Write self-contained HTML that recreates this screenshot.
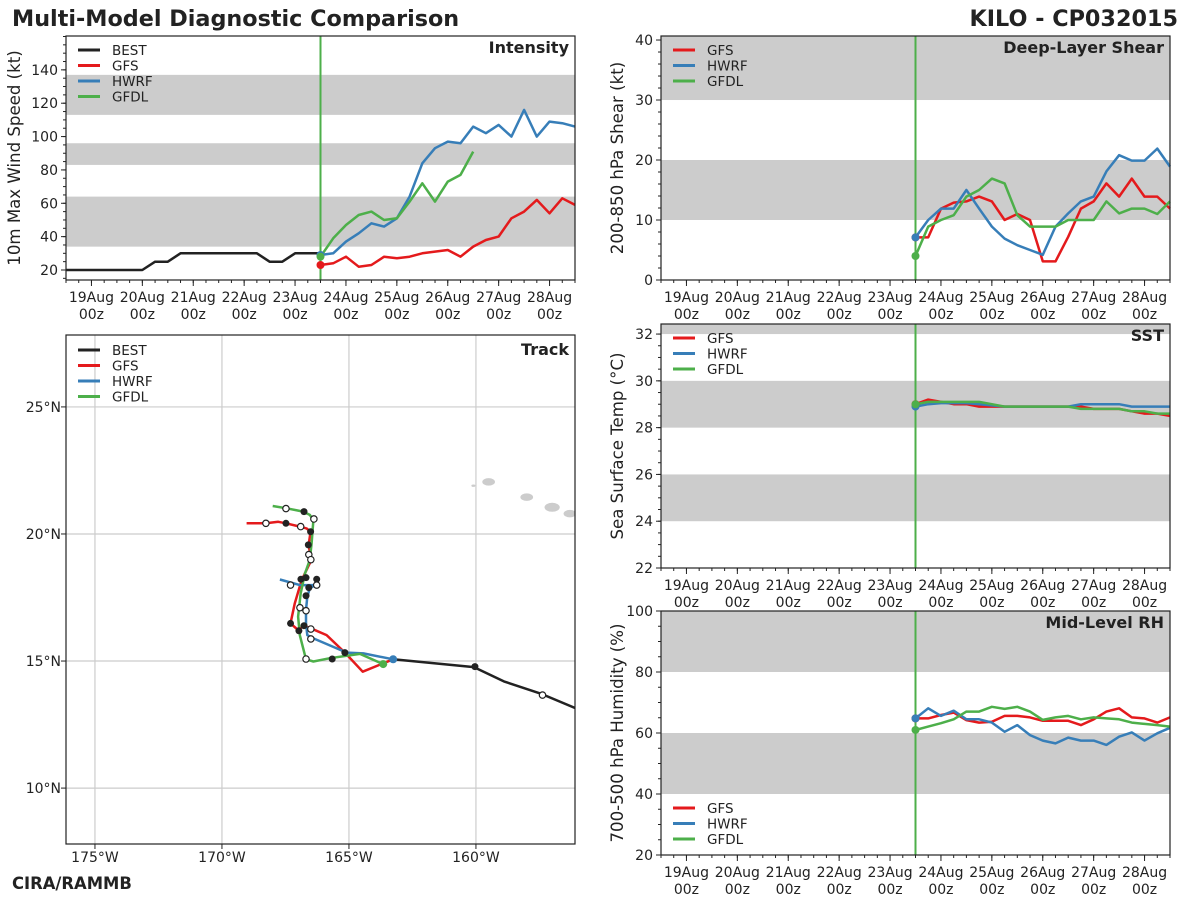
<!DOCTYPE html>
<html><head><meta charset="utf-8">
<style>
body{margin:0;background:#fff;font-family:"Liberation Sans","DejaVu Sans",sans-serif;}
svg text{font-family:"DejaVu Sans","Liberation Sans",sans-serif;}
</style></head>
<body>
<svg id="fig" width="1200" height="900" viewBox="0 0 1200 900" xmlns="http://www.w3.org/2000/svg">
<text x="12" y="26" font-size="22.3" font-weight="bold" fill="#222">Multi-Model Diagnostic Comparison</text>
<text x="1178" y="26" font-size="22.3" font-weight="bold" fill="#222" text-anchor="end">KILO - CP032015</text>
<text x="12" y="889" font-size="16.4" font-weight="bold" fill="#222">CIRA/RAMMB</text>
</svg>
<script>
// ---------- DATA ----------
const dayLabels=["19Aug","20Aug","21Aug","22Aug","23Aug","24Aug","25Aug","26Aug","27Aug","28Aug"];
const bestTimes=[-0.5,-0.25,0,0.25,0.5,0.75,1,1.25,1.5,1.75,2,2.25,2.5,2.75,3,3.25,3.5,3.75,4,4.25,4.5];
const bestVmax=[20,20,20,20,20,20,20,25,25,30,30,30,30,30,30,30,25,25,30,30,30];
const modelStart=4.5, modelStep=0.25;
const gfsVmax=[23,24,28,22,23,28,27,28,30,31,32,28,34,38,40,51,55,62,54,63,59];
const hwrfVmax=[29,30,37,42,48,46,51,64,84,93,97,96,106,102,107,100,116,100,109,108,106];
const gfdlVmax=[28,39,47,53,55,50,51,61,72,61,73,77,91];
const gfsShear=[7.1,7.1,11.9,12.9,13.1,13.9,13.1,10,11,10,3.1,3.1,7.2,11.9,13.1,16.1,13.9,16.9,13.9,13.9,11.9];
const hwrfShear=[7.1,10,11.9,11.9,15,11.9,8.9,6.9,5.8,5,4.2,8.9,11.1,13.1,13.9,18.1,20.8,19.9,19.9,21.9,18.9];
const gfdlShear=[4,8.9,10,10.8,13.9,15,16.9,16.1,10.8,8.9,8.9,8.9,10,10,10,13.1,11.1,11.9,11.9,11,13.1];
const gfsSst=[29,29.2,29.1,29,29,28.9,28.9,28.9,28.9,28.9,28.9,28.9,28.9,28.9,28.8,28.8,28.8,28.7,28.6,28.6,28.5];
const hwrfSst=[28.9,29,29.05,29.05,29.05,29,28.95,28.9,28.9,28.9,28.9,28.9,28.9,29,29,29,29,28.9,28.9,28.9,28.9];
const gfdlSst=[29,29.1,29.1,29.1,29.1,29.1,29,28.9,28.9,28.9,28.9,28.9,28.9,28.8,28.8,28.8,28.8,28.7,28.7,28.6,28.6];
const gfsRh=[64.8,64.8,65.9,66.7,64.2,63.4,63.7,65.6,65.6,65.1,64,64,64,62.6,64.5,67,68.1,65.1,64.8,63.4,65.1];
const hwrfRh=[64.8,68.1,65.6,67.3,64.5,64.5,63.4,60.4,62.6,59.3,57.5,56.6,58.5,57.5,57.5,56.1,58.8,60.2,57.5,59.9,61.7];
const gfdlRh=[61,62.1,63.2,64.5,67,67,68.6,67.9,68.6,67,64.3,65.1,65.6,64.5,65.1,64.8,64.5,63.4,63,62.6,62.1];
const bestTrackLon=[-156.1,-157.4,-158.9,-160.08,-163.26];
const bestTrackLat=[13.15,13.7,14.2,14.76,15.07];
const gfsTrackLon=[-163.26,-164.46,-165.16,-165.88,-166.5,-166.77,-167.0,-167.3,-167.13,-166.86,-166.54,-166.51,-166.59,-166.51,-166.67,-166.93,-167.48,-167.78,-168.27,-169.03];
const gfsTrackLat=[15.07,14.58,15.33,16.02,16.29,16.39,16.22,16.48,17.27,18.19,18.85,19.11,19.57,20.09,20.22,20.29,20.42,20.48,20.42,20.42];
const hwrfTrackLon=[-163.26,-164.43,-165.09,-166.4,-166.64,-166.69,-166.69,-166.64,-166.54,-166.34,-166.93,-167.72];
const hwrfTrackLat=[15.07,15.3,15.33,15.89,16.02,16.48,17.01,17.53,17.86,17.99,17.99,18.21];
const gfdlTrackLon=[-163.65,-164.57,-165.75,-166.4,-166.69,-166.93,-167.0,-166.9,-166.73,-166.54,-166.47,-166.4,-166.54,-166.8,-167.45,-168.0];
const gfdlTrackLat=[14.88,15.28,15.11,14.98,15.07,16.0,16.75,17.67,18.45,18.98,19.63,20.55,20.75,20.88,21.01,21.1];
const filledLon=[-166.77,-167.48,-166.51,-166.6,-166.89,-166.69,-166.27,-166.58,-166.69,-167.3,-166.77,-166.97,-165.66,-165.16,-160.04];
const filledLat=[20.88,20.42,20.09,19.57,18.22,18.28,18.22,17.89,17.57,16.48,16.39,16.19,15.08,15.33,14.78];
const openLon=[-167.48,-166.38,-168.27,-166.9,-166.58,-166.5,-167.3,-166.27,-166.93,-166.69,-166.5,-166.5,-166.69,-157.38];
const openLat=[21.0,20.59,20.42,20.29,19.19,18.99,17.99,17.99,17.1,16.98,16.26,15.87,15.08,13.66];
const islandLon=[-159.5,-158.0,-157.0,-156.3,-155.9,-160.1];
const islandLat=[22.05,21.45,21.05,20.8,20.6,21.9];
const islandR=[0.25,0.25,0.3,0.25,0.15,0.08];

// ---------- HELPERS ----------
const NS="http://www.w3.org/2000/svg";
const svg=document.getElementById('fig');
const C={best:"#222222",gfs:"#e41a1c",hwrf:"#377eb8",gfdl:"#4daf4a",band:"#cccccc"};
function mk(tag,attrs,parent){const e=document.createElementNS(NS,tag);for(const k in attrs)e.setAttribute(k,attrs[k]);(parent||svg).appendChild(e);return e;}
function txt(s,x,y,size,anchor,parent,extra){const t=mk('text',Object.assign({x:x,y:y,'font-size':size,'text-anchor':anchor||'start',fill:'#222'},extra||{}),parent);t.textContent=s;return t;}

function timePanel(cfg){
  const {x0,x1,y0,y1,ymin,ymax,name}=cfg;
  const g=mk('g',{});
  
  
  const X=t=>x0+(t+0.5)/10*(x1-x0);
  const Y=v=>y1-(v-ymin)/(ymax-ymin)*(y1-y0);
  cfg.bands.forEach(b=>{const r=mk('rect',{x:x0,y:Y(Math.min(b[1],ymax)),width:x1-x0,height:Y(b[0])-Y(Math.min(b[1],ymax)),fill:C.band},g);
    
    });
  cfg.yticks.forEach(v=>{mk('line',{x1:x0-5,x2:x0,y1:Y(v),y2:Y(v),stroke:'#222'},g);
    const t=txt(String(v),x0-8,Y(v)+5,14,'end',g);
    
    });
  if(cfg.yminor){for(let v=Math.ceil(ymin/cfg.yminor)*cfg.yminor;v<=ymax;v+=cfg.yminor)mk('line',{x1:x0-3,x2:x0,y1:Y(v),y2:Y(v),stroke:'#222'},g);}
  for(let t=-0.5;t<=9.5;t+=0.25)mk('line',{x1:X(t),x2:X(t),y1:y1,y2:y1+3,stroke:'#222'},g);
  dayLabels.forEach((d,i)=>{mk('line',{x1:X(i),x2:X(i),y1:y1,y2:y1+6,stroke:'#222'},g);
    const a=txt(d,X(i),y1+22,14,'middle',g);
    
    
    txt('00z',X(i),y1+39,14,'middle',g);});
  const yt=txt(cfg.ytitle,0,0,16.6,'middle',g,{transform:`translate(${x0-cfg.ytOff},${(y0+y1)/2}) rotate(-90)`});
  
  
  cfg.series.forEach(s=>{
    const times=s.times||s.vals.map((v,i)=>modelStart+i*modelStep);
    const pts=s.vals.map((v,i)=>X(times[i]).toFixed(1)+','+Y(v).toFixed(1)).join(' ');
    const p=mk('polyline',{points:pts,fill:'none',stroke:s.color,'stroke-width':2.5,'stroke-linejoin':'round'},g);
    
    
  });
  const vl=mk('line',{x1:X(4.5),x2:X(4.5),y1:y0,y2:y1,stroke:C.gfdl,'stroke-width':2},g);
  
  
  cfg.series.filter(s=>!s.times).forEach(s=>{
    const c=mk('circle',{cx:X(modelStart),cy:Y(s.vals[0]),r:4,fill:s.color},g);
    
    
  });
  mk('rect',{x:x0,y:y0,width:x1-x0,height:y1-y0,fill:'none',stroke:'#222','stroke-width':1.2},g);
  const pt=txt(cfg.title,x1-6,y0+17,16,'end',g,{'font-weight':'bold'});
  
  
  legend(g,cfg.legend,cfg.legX,cfg.legY);
}
function legend(g,items,lx,ly){
  items.forEach((it,i)=>{
    const y=ly+i*15.5;
    const l=mk('line',{x1:lx,x2:lx+22,y1:y,y2:y,stroke:C[it],'stroke-width':3},g);
    
    
    const t=txt(it.toUpperCase(),lx+34,y+5,13.5,'start',g);
    
    
  });
}

timePanel({name:'intensity',x0:66,x1:575,y0:36,y1:280,ymin:14,ymax:160.3,bands:[[34,64],[83,96],[113,137]],
  yticks:[20,40,60,80,100,120,140],yminor:5,ytitle:'10m Max Wind Speed (kt)',ytOff:46,title:'Intensity',
  legend:['best','gfs','hwrf','gfdl'],legX:78,legY:50,
  series:[{key:'best',color:C.best,vals:bestVmax,times:bestTimes},{key:'gfs',color:C.gfs,vals:gfsVmax},{key:'hwrf',color:C.hwrf,vals:hwrfVmax},{key:'gfdl',color:C.gfdl,vals:gfdlVmax}]});
timePanel({name:'shear',x0:661,x1:1170,y0:36,y1:280,ymin:0,ymax:40.67,bands:[[10,20],[30,41]],
  yticks:[0,10,20,30,40],yminor:2,ytitle:'200-850 hPa Shear (kt)',ytOff:38,title:'Deep-Layer Shear',
  legend:['gfs','hwrf','gfdl'],legX:673,legY:50,
  series:[{key:'gfs',color:C.gfs,vals:gfsShear},{key:'hwrf',color:C.hwrf,vals:hwrfShear},{key:'gfdl',color:C.gfdl,vals:gfdlShear}]});
timePanel({name:'sst',x0:661,x1:1170,y0:324,y1:568,ymin:22,ymax:32.43,bands:[[24,26],[28,30],[32,33]],
  yticks:[22,24,26,28,30,32],yminor:0.5,ytitle:'Sea Surface Temp (°C)',ytOff:38,title:'SST',
  legend:['gfs','hwrf','gfdl'],legX:673,legY:338,
  series:[{key:'gfs',color:C.gfs,vals:gfsSst},{key:'hwrf',color:C.hwrf,vals:hwrfSst},{key:'gfdl',color:C.gfdl,vals:gfdlSst}]});
timePanel({name:'rh',x0:661,x1:1170,y0:611,y1:855,ymin:20,ymax:100,bands:[[40,60],[80,100]],
  yticks:[20,40,60,80,100],yminor:5,ytitle:'700-500 hPa Humidity (%)',ytOff:38,title:'Mid-Level RH',
  legend:['gfs','hwrf','gfdl'],legX:673,legY:808,
  series:[{key:'gfs',color:C.gfs,vals:gfsRh},{key:'hwrf',color:C.hwrf,vals:hwrfRh},{key:'gfdl',color:C.gfdl,vals:gfdlRh}]});

// ---------- TRACK MAP ----------
(function(){
  const x0=66,x1=575,y0=335,y1=844;
  const lonMin=-176.14,lonMax=-156.1,latMin=7.8,latMax=27.83;
  const X=l=>x0+(l-lonMin)/(lonMax-lonMin)*(x1-x0);
  const Y=l=>y1-(l-latMin)/(latMax-latMin)*(y1-y0);
  const g=mk('g',{});
  
  
  const clip=mk('clipPath',{id:'trk'},g);mk('rect',{x:x0,y:y0,width:x1-x0,height:y1-y0},clip);
  const inner=mk('g',{'clip-path':'url(#trk)'},g);
  [-175,-170,-165,-160].forEach(l=>{mk('line',{x1:X(l),x2:X(l),y1:y0,y2:y1,stroke:'#cccccc','stroke-width':1.2},inner);
    mk('line',{x1:X(l),x2:X(l),y1:y1,y2:y1+5,stroke:'#222'},g);
    const t=txt(Math.abs(l)+'°W',X(l),y1+18,14,'middle',g);
    
    });
  [10,15,20,25].forEach(l=>{mk('line',{x1:x0,x2:x1,y1:Y(l),y2:Y(l),stroke:'#cccccc','stroke-width':1.2},inner);
    mk('line',{x1:x0-5,x2:x0,y1:Y(l),y2:Y(l),stroke:'#222'},g);
    const t=txt(l+'°N',x0-5,Y(l)+5,14,'end',g);
    
    });
  islandLon.forEach((l,i)=>{const e=mk('ellipse',{cx:X(l),cy:Y(islandLat[i]),rx:islandR[i]*25.4,ry:islandR[i]*15,fill:'#cccccc'},inner);
    
    });
  const tracks=[['best',bestTrackLon,bestTrackLat],['gfs',gfsTrackLon,gfsTrackLat],['hwrf',hwrfTrackLon,hwrfTrackLat],['gfdl',gfdlTrackLon,gfdlTrackLat]];
  tracks.forEach(tr=>{const pts=tr[1].map((l,i)=>X(l).toFixed(1)+','+Y(tr[2][i]).toFixed(1)).join(' ');
    const p=mk('polyline',{points:pts,fill:'none',stroke:C[tr[0]],'stroke-width':2.5,'stroke-linejoin':'round'},inner);
    
    });
  filledLon.forEach((l,i)=>{const c=mk('circle',{cx:X(l),cy:Y(filledLat[i]),r:3.5,fill:'#222'},inner);
    
    });
  openLon.forEach((l,i)=>{const c=mk('circle',{cx:X(l),cy:Y(openLat[i]),r:3.2,fill:'#fff',stroke:'#222','stroke-width':1.2},inner);
    
    });
  const c1=mk('circle',{cx:X(hwrfTrackLon[0]),cy:Y(hwrfTrackLat[0]),r:4,fill:C.hwrf},inner);
  
  
  const c2=mk('circle',{cx:X(gfdlTrackLon[0]),cy:Y(gfdlTrackLat[0]),r:4,fill:C.gfdl},inner);
  
  
  mk('rect',{x:x0,y:y0,width:x1-x0,height:y1-y0,fill:'none',stroke:'#222','stroke-width':1.2},g);
  const pt=txt('Track',x1-6,y0+20,16,'end',g,{'font-weight':'bold'});
  
  
  legend(g,['best','gfs','hwrf','gfdl'],78,350);
})();
</script>
</body></html>
